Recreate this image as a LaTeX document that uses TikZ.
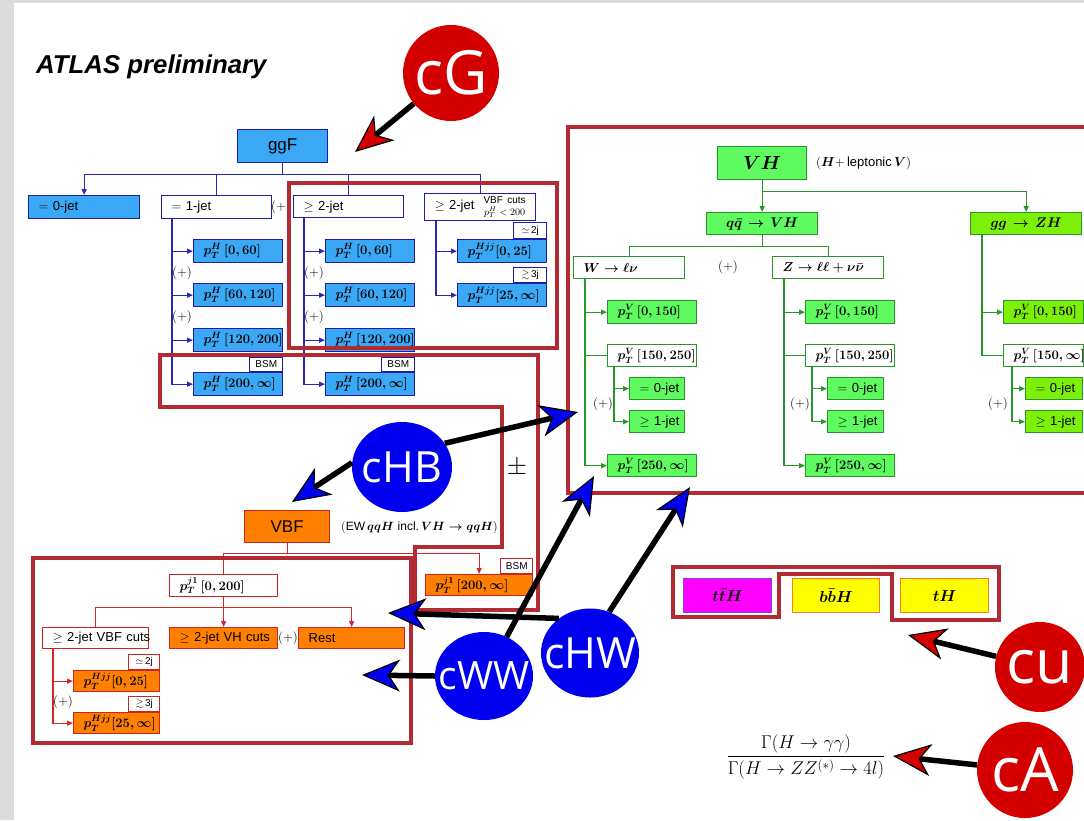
\RequirePackage{fix-cm}
\documentclass[tikz,border=0pt]{standalone}
\usepackage{amsmath,amssymb}
\usepackage{fontspec}
\newfontfamily\helv{Liberation Sans}
\newfontfamily\osans{Open Sans}
\usetikzlibrary{arrows.meta,shapes.geometric}

\definecolor{pagegrey}{RGB}{221,219,219}
\definecolor{bfill}{RGB}{59,168,245}
\definecolor{bdraw}{RGB}{30,30,165}
\definecolor{bline}{RGB}{40,40,180}
\definecolor{gfill}{RGB}{95,250,95}
\definecolor{lfill}{RGB}{125,240,10}
\definecolor{gdraw}{RGB}{40,150,40}
\definecolor{gline}{RGB}{40,150,40}
\definecolor{ofill}{RGB}{255,128,0}
\definecolor{odraw}{RGB}{205,35,35}
\definecolor{rline}{RGB}{210,40,40}
\definecolor{frm}{RGB}{178,42,50}
\definecolor{cred}{RGB}{212,0,0}
\definecolor{cblue}{RGB}{0,0,238}
\definecolor{mag}{RGB}{255,0,255}
\definecolor{magdraw}{RGB}{120,70,230}
\definecolor{yel}{RGB}{255,255,0}
\definecolor{yeldraw}{RGB}{255,120,40}

\newcommand\fsz[1]{\fontsize{#1}{#1}\selectfont}
\newcommand\ptl[2]{{\boldmath$p_T^{#1}\,#2$}}
\newcommand\ptj[1]{{\boldmath$p_T^{Hjj}#1$}}

\begin{document}
\begin{tikzpicture}[x=1pt,y=-1pt,font=\fsz{13},
  box/.style={draw, line width=1.3pt, anchor=north west, inner xsep=10pt, inner ysep=0pt, align=left, text=black,
    execute at begin node={\hbox to\hsize\bgroup}, execute at end node={\hfil\egroup}},
  cbox/.style={draw, line width=1.3pt, anchor=north west, inner xsep=10pt, inner ysep=0pt, align=center, text=black},
  sz/.style 2 args={minimum width=#1, minimum height=#2, text width=#1-20},
  bb/.style={box, draw=bdraw, fill=bfill},
  bw/.style={box, draw=bdraw, fill=white},
  gb/.style={box, draw=gdraw, fill=gfill},
  lb/.style={box, draw=gdraw, fill=lfill},
  gw/.style={box, draw=gdraw, fill=white},
  ob/.style={box, draw=odraw, fill=ofill},
  ow/.style={box, draw=odraw, fill=white},
  sf/.style={font=\helv\fsz{13}},
  tag/.style={draw, fill=white, line width=1pt, inner sep=0pt, anchor=south east, font=\helv\fsz{10}, minimum width=33, minimum height=15},
  plus/.style={font=\fsz{13}, inner sep=0pt},
  bl/.style={draw=bline, line width=1.3pt},
  bla/.style={bl, -{Triangle[length=6pt,width=5pt]}},
  gl/.style={draw=gline, line width=1.3pt},
  gla/.style={gl, -{Triangle[length=6pt,width=5pt]}},
  rl/.style={draw=rline, line width=1.1pt},
  rla/.style={rl, -{Triangle[length=6pt,width=5pt]}},
  hframe/.style={draw=frm, line width=4pt, line join=miter},
  coef/.style={inner sep=0pt, text=white, font=\osans\fsz{43}},
  rcoef/.style={coef, font=\osans\fsz{61}},
  bigarr/.style={line width=5.5pt, -{Stealth[length=38pt,width=32pt,inset=11pt,line width=1.2pt,fill=#1]}}
]
% page
\useasboundingbox (0,0) rectangle (1084,820);
\clip (0,0) rectangle (1084,820);
\fill[pagegrey] (0,0) rectangle (1084,820);
\fill[white] (14,3) rectangle (1084,820);

\node[anchor=west, inner sep=0pt, font=\helv\bfseries\itshape\fsz{25.8}] (title) at (36,67) {ATLAS preliminary};

% ---------------- ggF tree ----------------
\node[cbox, sz={90}{33}, draw=bdraw, fill=bfill, font=\helv\fsz{17}] (ggf) at (237,129) {ggF};
\node[bb, sz={111}{23}, sf] (zj) at (28,195) {$=$ 0-jet};
\node[bw, sz={110}{23}, sf] (oj) at (161,195) {$=$ 1-jet};
\node[plus, anchor=west] (ojp) at (271,207) {$(+$};
\node[bw, sz={110}{22}, sf] (tj) at (293,195) {$\geq$ 2-jet};
\node[bw, sz={111}{27}, sf] (vj) at (424,193) {$\geq$ 2-jet\hfill{\fontsize{10}{11}\selectfont\begin{tabular}{@{}c@{}}VBF cuts\\$p_T^H<200$\end{tabular}}};

\node[bb, sz={89}{23}] (o1) at (193,239) {\ptl{H}{[0,60]}};
\node[bb, sz={89}{23}] (o2) at (193,283) {\ptl{H}{[60,120]}};
\node[bb, sz={89}{23}] (o3) at (193,328) {\ptl{H}{[120,200]}};
\node[bb, sz={89}{23}] (o4) at (193,372) {\ptl{H}{[200,\infty]}};
\node[tag, draw=bdraw, minimum height=14] (o4t) at (o4.north east) {BSM};
\node[plus] (op1) at (182,273) {$(+)$};
\node[plus] (op2) at (182,317) {$(+)$};

\node[bb, sz={89}{23}] (t1) at (325,239) {\ptl{H}{[0,60]}};
\node[bb, sz={89}{23}] (t2) at (325,283) {\ptl{H}{[60,120]}};
\node[bb, sz={89}{23}] (t3) at (325,328) {\ptl{H}{[120,200]}};
\node[bb, sz={89}{23}] (t4) at (325,372) {\ptl{H}{[200,\infty]}};
\node[tag, draw=bdraw, minimum height=14] (t4t) at (t4.north east) {BSM};
\node[plus] (tp1) at (314,273) {$(+)$};
\node[plus] (tp2) at (314,317) {$(+)$};

\node[bb, sz={89}{23}] (v1) at (457,239) {\ptj{[0,25]}};
\node[bb, sz={89}{23}] (v2) at (457,283) {\ptj{[25,\infty]}};
\node[tag, draw=bdraw, minimum height=16] (v1t) at (v1.north east) {$\simeq$\,2j};
\node[tag, draw=bdraw] (v2t) at (v2.north east) {$\gtrsim$\,3j};

\draw[bl] (ggf.south) -- ++(0,11) coordinate (gbr);
\draw[bla] (gbr) -| (zj.north);
\draw[bl] (gbr) -| (oj.north);
\draw[bl] (gbr) -| (tj.north);
\draw[bl] (gbr) -| (vj.north);
\foreach \c in {o1,o2,o3,o4} \draw[bla] ([xshift=11]oj.south west) |- (\c.west);
\foreach \c in {t1,t2,t3,t4} \draw[bla] ([xshift=11]tj.south west) |- (\c.west);
\foreach \c in {v1,v2} \draw[bla] ([xshift=12]vj.south west) |- (\c.west);

% ---------------- VH tree ----------------
\node[cbox, sz={89}{33}, draw=gdraw, fill=gfill, font=\fsz{19}] (vh) at (717,146) {{\boldmath$VH$}};
\node[anchor=west, inner sep=0pt, font=\fsz{13}] (vhn) at (816,163) {$(\boldsymbol{H}+$\,{\helv leptonic}\,$\boldsymbol{V})$};
\node[cbox, sz={111}{22}, draw=gdraw, fill=gfill, font=\fsz{14}] (qq) at (706,212) {{\boldmath$q\bar q\to VH$}};
\node[cbox, sz={111}{22}, draw=gdraw, fill=lfill, font=\fsz{14}] (gg) at (970,212) {{\boldmath$gg\to ZH$}};
\node[gw, sz={111}{22}] (wl) at (573,256) {{\boldmath$W\to\ell\nu$}};
\node[plus] (wzp) at (728,267) {$(+)$};
\node[gw, sz={111}{22}] (zl) at (772,256) {{\boldmath$Z\to\ell\ell+\nu\bar\nu$}};

\node[gb, sz={89}{23}] (w1) at (607,300) {\ptl{V}{[0,150]}};
\node[gw, sz={89}{22}] (w2) at (607,344) {\ptl{V}{[150,250]}};
\node[gb, sz={55}{22}, sf, inner xsep=8pt] (w3) at (629,377) {$=$ 0-jet};
\node[gb, sz={55}{22}, sf, inner xsep=8pt] (w4) at (629,410) {$\geq$ 1-jet};
\node[gb, sz={89}{22}] (w5) at (607,454) {\ptl{V}{[250,\infty]}};
\node[plus] (wp) at (603,404) {$(+)$};

\node[gb, sz={89}{23}] (z1) at (805,300) {\ptl{V}{[0,150]}};
\node[gw, sz={89}{22}] (z2) at (805,344) {\ptl{V}{[150,250]}};
\node[gb, sz={56}{22}, sf, inner xsep=8pt] (z3) at (827,377) {$=$ 0-jet};
\node[gb, sz={56}{22}, sf, inner xsep=8pt] (z4) at (827,410) {$\geq$ 1-jet};
\node[gb, sz={89}{22}] (z5) at (805,454) {\ptl{V}{[250,\infty]}};
\node[plus] (zp) at (800,404) {$(+)$};

\node[lb, sz={80}{23}] (g1) at (1003,300) {\ptl{V}{[0,150]}};
\node[gw, sz={80}{22}] (g2) at (1003,344) {\ptl{V}{[150,\infty]}};
\node[lb, sz={57}{22}, sf, inner xsep=8pt] (g3) at (1025,377) {$=$ 0-jet};
\node[lb, sz={57}{22}, sf, inner xsep=8pt] (g4) at (1025,410) {$\geq$ 1-jet};
\node[plus] (gp) at (998,404) {$(+)$};

\draw[gla] (vh.south) -- (qq.north);
\draw[gl] (vh.south) -- ++(0,11) coordinate (vhb);
\draw[gla] (vhb) -| (gg.north);
\draw[gl] (qq.south) -- ++(0,11) coordinate (qqb);
\draw[gl] (qqb) -| (wl.north);
\draw[gl] (qqb) -| (zl.north);
\foreach \p/\a/\b/\c/\d/\e in {wl/w1/w2/w3/w4/w5, zl/z1/z2/z3/z4/z5}{
  \draw[gla] ([xshift=12]\p.south west) |- (\a.west);
  \draw[gl] ([xshift=12]\p.south west) |- (\b.west);
  \draw[gla] ([xshift=12]\p.south west) |- (\e.west);
  \draw[gla] ([xshift=7]\b.south west) |- (\c.west);
  \draw[gla] ([xshift=7]\b.south west) |- (\d.west);
}
\draw[gla] ([xshift=12]gg.south west) |- (g1.west);
\draw[gl] ([xshift=12]gg.south west) |- (g2.west);
\draw[gla] ([xshift=9]g2.south west) |- (g3.west);
\draw[gla] ([xshift=9]g2.south west) |- (g4.west);

% ---------------- VBF tree ----------------
\node[cbox, sz={85}{32}, draw=odraw, fill=ofill, font=\helv\fsz{17}] (vbf) at (244,510) {VBF};
\node[anchor=west, inner sep=0pt, font=\fsz{12}] (vbfn) at (341,527) {({\helv EW}\,{\boldmath$qqH$} {\helv incl.}\,{\boldmath$VH\to qqH$})};
\node[ow, sz={108}{22}] (r0) at (169,574) {\ptl{j1}{[0,200]}};
\node[ob, sz={107}{21}] (rb) at (425,574) {\ptl{j1}{[200,\infty]}};
\node[tag, draw=odraw, minimum width=32] (rbt) at (rb.north east) {BSM};
\node[ow, sz={106}{21}, sf] (r1) at (42,627) {$\geq$ 2-jet VBF cuts};
\node[ob, sz={108}{21}, sf, inner xsep=9pt] (r2) at (169,627) {$\geq$ 2-jet VH cuts};
\node[plus] (rp) at (288,638) {$(+)$};
\node[ob, sz={106}{21}, sf] (r3) at (298,627) {Rest};
\node[ob, sz={86}{21}] (r4) at (73,670) {\ptj{[0,25]}};
\node[ob, sz={86}{21}] (r5) at (73,712) {\ptj{[25,\infty]}};
\node[tag, draw=odraw, minimum width=31] (r4t) at (r4.north east) {$\simeq$\,2j};
\node[tag, draw=odraw, minimum width=31] (r5t) at (r5.north east) {$\gtrsim$\,3j};
\node[plus] (r45p) at (63,702) {$(+)$};

\draw[rl] (vbf.south) -- ++(0,10) coordinate (vbfb);
\draw[rl] (vbfb) -| (r0.north);
\draw[rla] (vbfb) -| (rb.north);
\draw[rl] (r0.south) -- ++(0,10) coordinate (r0b);
\draw[rl] (r0b) -| (r1.north);
\draw[rla] (r0b) -- (r2.north);
\draw[rla] (r0b) -| (r3.north);
\draw[rla] ([xshift=11]r1.south west) |- (r4.west);
\draw[rla] ([xshift=11]r1.south west) |- (r5.west);

% ---------------- other production modes ----------------
\node[cbox, sz={88}{34}, draw=magdraw, fill=mag, font=\fsz{16}] (tth) at (683,578) {{\boldmath$t\bar tH$}};
\node[cbox, sz={87}{34}, draw=yeldraw, fill=yel, font=\fsz{16}] (bbh) at (792,578) {{\boldmath$b\bar bH$}};
\node[cbox, sz={88}{34}, draw=yeldraw, fill=yel, font=\fsz{16}] (th) at (900,578) {{\boldmath$tH$}};

\node[inner sep=0pt, font=\fsz{18.5}] (ratio) at (806,757) {$\displaystyle\frac{\Gamma(H\to\gamma\gamma)}{\Gamma(H\to ZZ^{(*)}\to 4l)}$};

% ---------------- groupings ----------------
\draw[hframe] (289,183) rectangle (557,348);
\draw[hframe] (160,355) -- (538,355) -- (538,610) -- (415,610) -- (415,547) -- (502,547) -- (502,407) -- (160,407) -- cycle;
\draw[hframe] (33,558) rectangle (411,743);
\draw[hframe] (568,127) rectangle (1100,493);
\draw[hframe] (673,567) -- (999,567) -- (999,620) -- (892,620) -- (892,574) -- (779,574) -- (779,617) -- (673,617) -- cycle;
\node[inner sep=0pt, font=\fsz{26}] (pm) at (517,468) {$\pm$};

% ---------------- coefficients ----------------
\node[circle, fill=cred, minimum size=96, inner sep=0pt] (cG) at (451,73) {};
\node[rcoef] (cGt) at (cG) {cG};
\node[ellipse, fill=cblue, minimum width=100, minimum height=90, inner sep=0pt] (cHB) at (402,467) {};
\node[coef] (cHBt) at (cHB) {cHB};
\node[ellipse, fill=cblue, minimum width=98, minimum height=88, inner sep=0pt] (cWW) at (484,676) {};
\node[coef, font=\osans\fsz{39}] (cWWt) at (cWW) {cWW};
\node[ellipse, fill=cblue, minimum width=98, minimum height=89, inner sep=0pt] (cHW) at (590,653) {};
\node[coef] (cHWt) at (cHW) {cHW};
\node[circle, fill=cred, minimum size=90, inner sep=0pt] (cu) at (1040,667) {};
\node[rcoef] (cut) at (cu) {cu};
\node[circle, fill=cred, minimum size=96, inner sep=0pt] (cA) at (1025,770) {};
\node[rcoef] (cAt) at (cA) {cA};

\coordinate (tG) at (355,152);
\coordinate (tHB1) at (292,502);
\coordinate (tHB2) at (578,412);
\coordinate (tWW1) at (594,476);
\coordinate (tWW2) at (362,675);
\coordinate (tHW1) at (388,613);
\coordinate (tHW2) at (690,487);
\coordinate (tu) at (908,635);
\coordinate (tA) at (893,756);

\draw[bigarr=cred] (cG) -- (tG);
\draw[bigarr=cblue] (cHB.175) -- (tHB1);
\draw[bigarr=cblue] (cHB.29) -- (tHB2);
\draw[bigarr=cblue] (cWW.60) -- (tWW1);
\draw[bigarr=cblue] (cWW.180) -- (tWW2);
\draw[bigarr=cblue] (cHW.132) -- (tHW1);
\draw[bigarr=cblue] (cHW.65) -- (tHW2);
\draw[bigarr=cred] (cu) -- (tu);
\draw[bigarr=cred] (cA) -- (tA);
\end{tikzpicture}
\end{document}
